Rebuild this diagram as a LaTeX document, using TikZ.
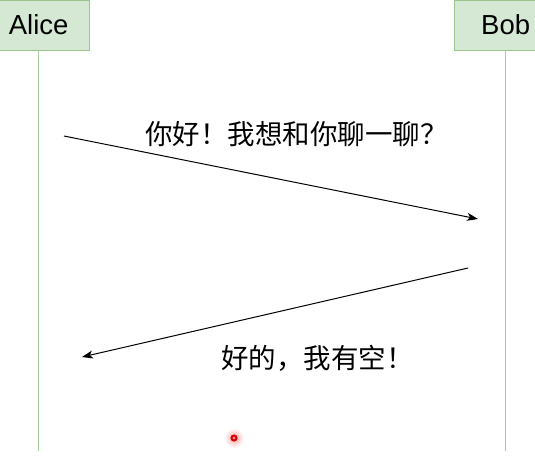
\documentclass[tikz,border=0pt]{standalone}
\usepackage{fontspec}
\setmainfont{Liberation Sans}
\newfontfamily\cjk{Noto Sans CJK SC}
\usetikzlibrary{arrows.meta}
\definecolor{boxfill}{HTML}{D5E8D4}
\definecolor{boxline}{HTML}{9CC58C}
\definecolor{lifecol}{HTML}{A8CC9A}
\begin{document}
\begin{tikzpicture}[x=1pt,y=-1pt,
  actor/.style={draw=boxline,fill=boxfill,line width=1pt,minimum width=102pt,minimum height=50pt,inner sep=0pt,font=\fontsize{27.5}{31}\selectfont},
  lifeline/.style={draw=lifecol,line width=1.2pt},
  msgline/.style={draw=black,line width=1pt,-{Stealth[length=11pt,width=8pt,inset=3pt]}},
  msgtext/.style={inner sep=0pt,anchor=west,font=\cjk\fontsize{27.5}{31}\selectfont}]
\useasboundingbox (0,0) rectangle (535,472);
\clip (0,0) rectangle (535,472);
\fill[white] (0,0) rectangle (535,472);
% actors
\node[actor] (alice) at (38.7,25) {Alice};
\node[actor] (bob) at (505.7,25) {Bob};
\coordinate (aliceEnd) at (38.7,451);
\coordinate (bobEnd) at (505.7,451);
\draw[lifeline] (alice.south) -- (aliceEnd);
\draw[lifeline] (bob.south) -- (bobEnd);
% messages
\coordinate (m1s) at (64,136);
\coordinate (m1e) at (478,219);
\coordinate (m2s) at (468,268);
\coordinate (m2e) at (82,357);
\draw[msgline] (m1s) -- (m1e);
\draw[msgline] (m2s) -- (m2e);
\node[msgtext] (t1) at (145,134) {你好！我想和你聊一聊？};
\node[msgtext] (t2) at (221,358) {好的，我有空！};
% pointer highlight
\shade[inner color=red!35,outer color=white] (234,438) circle (10pt);
\fill[red!85!black] (234,438) circle (3.6pt);
\fill[red!35] (234,438) circle (1.3pt);
\end{tikzpicture}
\end{document}
